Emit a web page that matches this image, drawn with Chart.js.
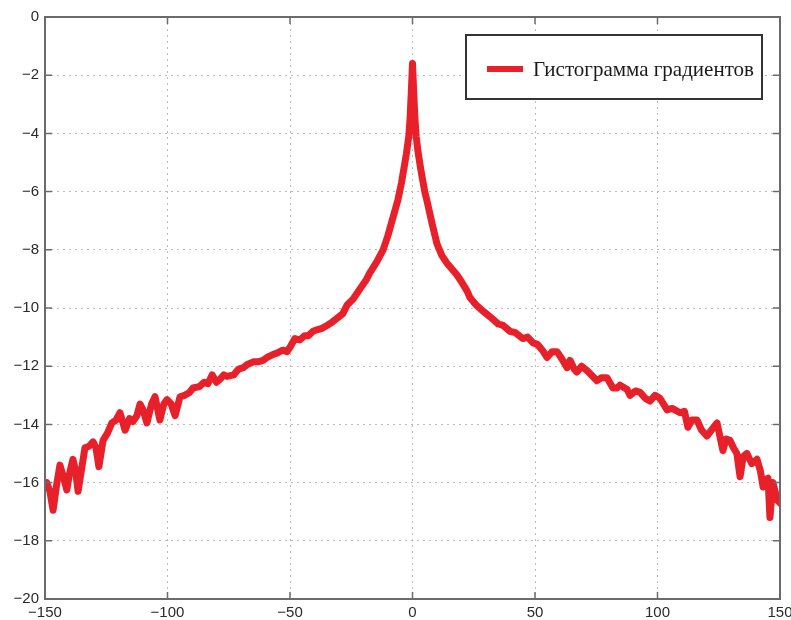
<!DOCTYPE html>
<html>
<head>
<meta charset="utf-8">
<script src="https://cdn.jsdelivr.net/npm/chart.js@4"></script>
<style>
  html, body { margin: 0; padding: 0; background: #fff; }
  #wrap { width: 791px; height: 620px; position: relative; }
</style>
</head>
<body>
<div id="wrap"><canvas id="chart"></canvas></div>
<script>
// data
const seriesLabel = 'Гистограмма градиентов';
const xs = [
  -150, -149.3, -148, -146.7, -145.3, -143.9, -142.5, -141.1, -140, -138.6, -137.5, -136.5, -135, -133.7,
  -132, -130.4, -129.2, -128, -126.3, -124.5, -122.7, -121, -119.4, -117.3, -115.5, -114.1, -112.5, -111.2,
  -110, -108.4, -106.5, -105.1, -103.1, -101.5, -100.2, -98.5, -96.9, -94.9, -93, -91, -89.6, -87, -85,
  -83.5, -81.8, -80, -78.6, -77, -75.7, -73, -71, -69, -67.6, -65, -63, -61, -59.4, -57, -55.3, -53,
  -51.2, -50, -48, -46, -44, -42.5, -40.6, -39, -37, -34.9, -33, -30.8, -28.5, -26.7, -24.3, -21.5,
  -19, -17.5, -16, -14.5, -12, -10, -8, -6, -4.5, -3.5, -2.5, -1.5, -1, -0.5, 0,
  0.5, 1, 1.5, 2.2, 3.5, 5, 6, 8, 10, 12, 14, 16, 18, 20, 22.2, 23.5, 26, 28, 31.6, 35, 37, 39.8, 42,
  45, 47, 49.2, 51, 53, 54.9, 57, 59, 61, 63.1, 64.3, 66, 67.1, 69, 71.2, 73, 75.3, 77, 79.4, 81.8,
  83.5, 84.7, 87.6, 88.8, 91, 92.9, 95, 96.9, 99, 101, 103.9, 106, 109.2, 111, 112.4, 114, 116.1, 118,
  120.2, 122, 124.3, 126.7, 128, 129.6, 131, 132.4, 133.7, 135, 136.5, 138.5, 140.6, 142, 143.1, 144,
  145.1, 145.9, 147.1, 148, 148.8, 150
];
const ys = [
  -16.05, -16.0, -16.3, -16.95, -16.1, -15.4, -15.8, -16.25, -15.7, -15.2, -15.6, -16.3, -15.5, -14.8,
  -14.75, -14.6, -14.8, -15.45, -14.55, -14.3, -13.95, -13.85, -13.6, -14.2, -13.8, -13.9, -13.7, -13.3,
  -13.5, -13.95, -13.3, -13.05, -13.85, -13.3, -13.15, -13.3, -13.7, -13.05, -13.0, -12.9, -12.75, -12.7, -12.55,
  -12.6, -12.3, -12.55, -12.45, -12.3, -12.35, -12.3, -12.1, -12.05, -11.95, -11.85, -11.85, -11.8, -11.7, -11.6, -11.55, -11.45,
  -11.5, -11.35, -11.05, -11.1, -10.95, -10.95, -10.8, -10.75, -10.7, -10.6, -10.5, -10.35, -10.2, -9.9, -9.7, -9.35,
  -9.05, -8.8, -8.6, -8.4, -8.0, -7.5, -6.9, -6.3, -5.7, -5.2, -4.7, -4.1, -3.5, -2.6, -1.6,
  -2.6, -3.5, -4.1, -4.6, -5.3, -6.0, -6.35, -7.1, -7.8, -8.2, -8.45, -8.65, -8.85, -9.1, -9.4, -9.65, -9.9, -10.05, -10.3, -10.55, -10.6, -10.8, -10.85,
  -11.05, -11.0, -11.2, -11.25, -11.45, -11.7, -11.5, -11.5, -11.75, -12.05, -11.8, -12.1, -12.2, -12.0, -12.15, -12.3, -12.5, -12.4, -12.4, -12.75,
  -12.75, -12.65, -12.8, -13.0, -12.85, -12.9, -13.1, -13.2, -13.0, -13.1, -13.5, -13.45, -13.6, -13.55, -14.1, -13.85, -13.85, -14.2,
  -14.4, -14.2, -13.95, -14.9, -14.5, -14.55, -14.8, -15.0, -15.8, -15.1, -15.0, -15.35, -15.2, -15.6, -16.15, -15.9,
  -15.85, -17.2, -16.0, -16.3, -16.6, -16.7
];
const xTicks = [-150, -100, -50, 0, 50, 100, 150];
const yTicks = [0, -2, -4, -6, -8, -10, -12, -14, -16, -18, -20];

const points = xs.map((x, i) => ({ x: x, y: ys[i] }));
const RED = '#e8202a';
const fmt = v => (v < 0 ? '\u2212' + Math.abs(v) : String(v));

// matlab-style box, inward ticks and the legend drawn inside the axes
const boxPlugin = {
  id: 'boxPlugin',
  afterDraw(chart) {
    const ctx = chart.ctx;
    const a = chart.chartArea;
    const sx = chart.scales.x, sy = chart.scales.y;
    ctx.save();
    ctx.strokeStyle = '#6b6b6b';
    ctx.lineWidth = 2;
    ctx.strokeRect(a.left, a.top, a.right - a.left, a.bottom - a.top);
    ctx.lineWidth = 1.5;
    ctx.beginPath();
    xTicks.forEach(v => {
      const px = sx.getPixelForValue(v);
      ctx.moveTo(px, a.bottom); ctx.lineTo(px, a.bottom - 7);
      ctx.moveTo(px, a.top); ctx.lineTo(px, a.top + 7);
    });
    yTicks.forEach(v => {
      const py = sy.getPixelForValue(v);
      ctx.moveTo(a.left, py); ctx.lineTo(a.left + 7, py);
      ctx.moveTo(a.right, py); ctx.lineTo(a.right - 7, py);
    });
    ctx.stroke();

    // legend
    const lx = 466, ly = 35, lw = 296, lh = 64;
    ctx.fillStyle = '#fff';
    ctx.fillRect(lx, ly, lw, lh);
    ctx.strokeStyle = '#333';
    ctx.lineWidth = 2;
    ctx.strokeRect(lx, ly, lw, lh);
    ctx.strokeStyle = RED;
    ctx.lineWidth = 6;
    ctx.beginPath();
    ctx.moveTo(lx + 21, ly + 34);
    ctx.lineTo(lx + 57, ly + 34);
    ctx.stroke();
    ctx.fillStyle = '#1a1a1a';
    ctx.font = '21px "Liberation Serif", serif';
    ctx.textBaseline = 'middle';
    ctx.fillText(seriesLabel, lx + 67, ly + 35);
    ctx.restore();
  }
};

new Chart(document.getElementById('chart'), {
  type: 'line',
  data: {
    datasets: [{
      label: seriesLabel,
      data: points,
      borderColor: RED,
      borderWidth: 7,
      pointRadius: 0,
      tension: 0,
      borderJoinStyle: 'round',
      borderCapStyle: 'round',
      fill: false
    }]
  },
  options: {
    responsive: true,
    maintainAspectRatio: false,
    animation: false,
    layout: { padding: { top: 17, right: 11, left: 0, bottom: 0 } },
    plugins: { legend: { display: false }, tooltip: { enabled: false } },
    scales: {
      x: {
        type: 'linear', min: -150, max: 150,
        afterBuildTicks: s => { s.ticks = xTicks.map(v => ({ value: v })); },
        afterFit: s => { s.height = 21; s.paddingLeft = 0; s.paddingRight = 0; },
        border: { display: false, dash: [2, 4] },
        grid: { color: '#bdbdbd', drawTicks: false, lineWidth: 1 },
        ticks: { padding: 5, color: '#2a2a2a', font: { family: 'Liberation Sans', size: 15 }, callback: fmt, maxRotation: 0 }
      },
      y: {
        type: 'linear', min: -20, max: 0,
        afterBuildTicks: s => { s.ticks = yTicks.map(v => ({ value: v })); },
        afterFit: s => { s.width = 45; s.paddingTop = 0; s.paddingBottom = 0; },
        border: { display: false, dash: [2, 4] },
        grid: { color: '#bdbdbd', drawTicks: false, lineWidth: 1 },
        ticks: { padding: 6, color: '#2a2a2a', font: { family: 'Liberation Sans', size: 15 }, callback: fmt }
      }
    }
  },
  plugins: [boxPlugin]
});
</script>
</body>
</html>
